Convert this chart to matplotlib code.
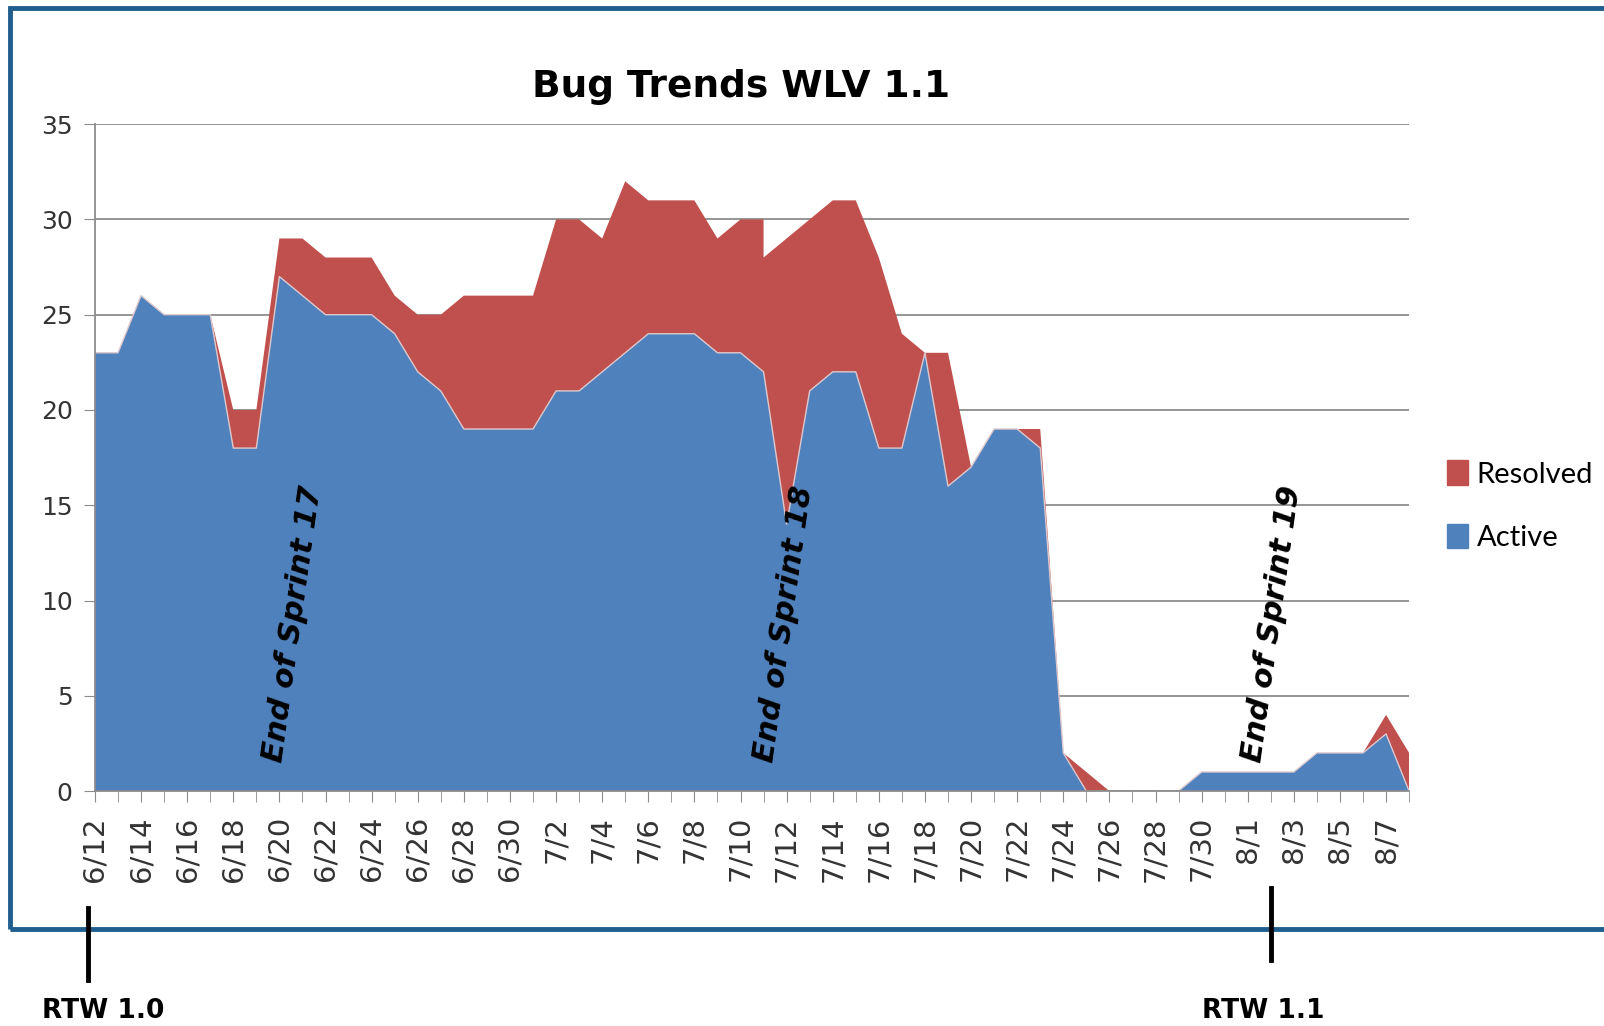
import matplotlib.pyplot as plt
from matplotlib.patches import Rectangle, Patch
from matplotlib.lines import Line2D
import pandas as pd

# daily counts, 7/11 has two records (the drop on that day)
dates = ["6/12", "6/13", "6/14", "6/15", "6/16", "6/17", "6/18", "6/19", "6/20", "6/21",
         "6/22", "6/23", "6/24", "6/25", "6/26", "6/27", "6/28", "6/29", "6/30",
         "7/1", "7/2", "7/3", "7/4", "7/5", "7/6", "7/7", "7/8", "7/9", "7/10", "7/11",
         "7/11", "7/12", "7/13", "7/14", "7/15", "7/16", "7/17", "7/18", "7/19", "7/20",
         "7/21", "7/22", "7/23", "7/24", "7/25", "7/26", "7/27", "7/28", "7/29", "7/30", "7/31",
         "8/1", "8/2", "8/3", "8/4", "8/5", "8/6", "8/7", "8/8"]
active = [23, 23, 26, 25, 25, 25, 18, 18, 27, 26, 25, 25, 25, 24, 22, 21, 19, 19, 19,
          19, 21, 21, 22, 23, 24, 24, 24, 23, 23, 22, 22, 14, 21, 22, 22, 18, 18, 23, 16, 17,
          19, 19, 18, 2, 0, 0, 0, 0, 0, 1, 1,
          1, 1, 1, 2, 2, 2, 3, 0]
resolved = [0, 0, 0, 0, 0, 0, 2, 2, 2, 3, 3, 3, 3, 2, 3, 4, 7, 7, 7,
            7, 9, 9, 7, 9, 7, 7, 7, 6, 7, 8, 6, 15, 9, 9, 9, 10, 6, 0, 7, 0,
            0, 0, 1, 0, 1, 0, 0, 0, 0, 0, 0,
            0, 0, 0, 0, 0, 0, 1, 2]

sprints = ["End of Sprint 17", "End of Sprint 18", "End of Sprint 19"]
sprint_pos = [0.151, 0.524, 0.896]
releases = ["RTW 1.0", "RTW 1.1"]

blue = "#4F81BD"
red = "#C0504D"
grid_col = "#8C8C8C"

x = pd.to_datetime(["2010/" + d for d in dates], format="%Y/%m/%d")

fig = plt.figure(figsize=(16.04, 10.26), dpi=100)
ax = fig.add_axes([0.0592, 0.229, 0.8193, 0.650])

ax.stackplot(x, active, resolved, colors=[blue, red], edgecolor="none")
ax.plot(x, active, color="#dcc8cc", lw=1)

ax.set_xlim(x[0], x[-1])
ax.set_ylim(0, 35)
ax.set_yticks(range(0, 36, 5))
ax.yaxis.grid(True, color=grid_col, lw=1.3)
ax.set_axisbelow(True)

days = pd.date_range(x[0], x[-1], freq="D")
ax.set_xticks(days, minor=True)
lab_days = pd.date_range(x[0], x[-1], freq="2D")
ax.set_xticks(lab_days)
ax.set_xticklabels([f"{d.month}/{d.day}" for d in lab_days], rotation=90)
ax.tick_params(axis="x", which="both", length=8, color=grid_col, direction="out",
               labelsize=21, labelcolor="#333333", pad=10)
ax.tick_params(axis="y", length=8, color=grid_col, labelsize=18, labelcolor="#333333", pad=8)

for s in ["top", "right"]:
    ax.spines[s].set_visible(False)
ax.spines["left"].set_color(grid_col)
ax.spines["bottom"].set_color(grid_col)
ax.spines["left"].set_linewidth(1.3)
ax.spines["bottom"].set_linewidth(1.3)

for txt, px in zip(sprints, sprint_pos):
    ax.text(px, 0.25, txt, transform=ax.transAxes, rotation=82, ha="center", va="center",
            fontsize=22, fontweight="bold", fontstyle="italic", color="black")

fig.text(0.462, 0.915, "Bug Trends WLV 1.1", ha="center", va="center",
         fontsize=27, fontweight="bold")

handles = [Patch(color=red), Patch(color=blue)]
fig.legend(handles, ["Resolved", "Active"], loc="center left", bbox_to_anchor=(0.886, 0.507),
           frameon=False, handlelength=0.7, handleheight=0.9,
           handletextpad=0.3, labelspacing=1.25, prop={"family": "Lato", "size": 21})

# blue frame around the chart, open on the right
frame = Rectangle((10 / 1604, 97 / 1026), 1.2, 921 / 1026, transform=fig.transFigure,
                  fill=False, edgecolor="#1F5E8E", lw=3.5)
fig.add_artist(frame)

fig.add_artist(Line2D([88 / 1604, 88 / 1604], [0.115, 0.045], color="black", lw=3.5))
fig.add_artist(Line2D([1271 / 1604, 1271 / 1604], [0.1345, 0.0643], color="black", lw=3.5))
fig.text(103 / 1604, 0.0146, releases[0], ha="center", va="center", fontsize=19, fontweight="bold")
fig.text(1263 / 1604, 0.0146, releases[1], ha="center", va="center", fontsize=19, fontweight="bold")

fig.savefig("out.png", dpi=100)
